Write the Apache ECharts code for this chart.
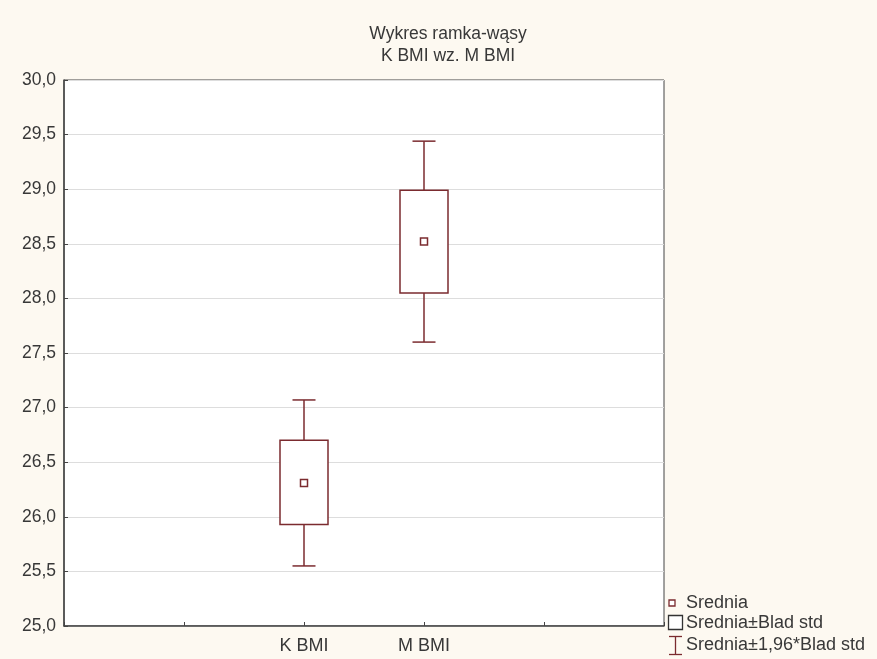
<!DOCTYPE html>
<html>
<head>
<meta charset="utf-8">
<script src="https://cdn.jsdelivr.net/npm/echarts@6/dist/echarts.min.js"></script>
<style>
html,body{margin:0;padding:0;background:#fdf9f1;}
#chart{width:877px;height:659px;}
</style>
</head>
<body>
<div id="chart"></div>
<script>
// x axis slots: the two groups sit on the 2nd and 3rd inner ticks
const xSlots = ['', '', 'K BMI', 'M BMI', '', ''];
const groups = ['K BMI', 'M BMI'];
const means = [26.31, 28.52];
const seLow = [25.93, 28.05];
const seHigh = [26.70, 28.99];
const ciLow = [25.55, 27.60];
const ciHigh = [27.07, 29.44];
const yTicks = [25, 25.5, 26, 26.5, 27, 27.5, 28, 28.5, 29, 29.5, 30];
const legendLabels = ['Srednia', 'Srednia±Blad std', 'Srednia±1,96*Blad std'];

const C = '#7b2b2f';
const FONT = 'Liberation Sans, Arial, sans-serif';
const TXT = '#383838';
const AX = '#444444';

const chart = echarts.init(document.getElementById('chart'));

const data = groups.map((g, i) => [g, means[i], seLow[i], seHigh[i], ciLow[i], ciHigh[i]]);

chart.setOption({
  backgroundColor: '#fdf9f1',
  animation: false,
  title: {
    text: 'Wykres ramka-wąsy\nK BMI wz. M BMI',
    left: 443, top: 18, textAlign: 'center',
    textStyle: {fontFamily: FONT, fontSize: 17.5, fontWeight: 'normal', color: TXT, lineHeight: 22}
  },
  grid: {left: 64, right: 213, top: 80, bottom: 33, show: true, backgroundColor: '#ffffff', borderColor: AX, borderWidth: 1},
  xAxis: {
    type: 'category', data: xSlots, boundaryGap: false,
    axisLine: {lineStyle: {color: AX, width: 1.5}},
    axisTick: {inside: true, length: 4, lineStyle: {color: AX}},
    axisLabel: {fontFamily: FONT, fontSize: 18, color: TXT, margin: 11},
    splitLine: {show: false}
  },
  yAxis: {
    type: 'value', min: 25, max: 30, interval: 0.5,
    axisLine: {show: true, lineStyle: {color: AX, width: 1.5}},
    axisTick: {show: true, inside: true, length: 4, lineStyle: {color: AX}},
    axisLabel: {fontFamily: FONT, fontSize: 17.5, color: TXT, margin: 8,
      formatter: v => yTicks.includes(v) ? v.toFixed(1).replace('.', ',') : ''},
    splitLine: {show: true, lineStyle: {color: '#dddddd', width: 1}}
  },
  series: [{
    type: 'custom',
    data: data,
    encode: {x: 0, y: [1, 2, 3, 4, 5]},
    renderItem: function (params, api) {
      const x = api.value(0);
      const pM = api.coord([x, api.value(1)]);
      const pSL = api.coord([x, api.value(2)]);
      const pSH = api.coord([x, api.value(3)]);
      const pCL = api.coord([x, api.value(4)]);
      const pCH = api.coord([x, api.value(5)]);
      const cx = pM[0];
      const bw = 48, cw = 23, ms = 7;
      const ls = {stroke: C, lineWidth: 1.5, fill: null};
      return {
        type: 'group',
        children: [
          {type: 'line', shape: {x1: cx, y1: pCH[1], x2: cx, y2: pSH[1]}, style: ls},
          {type: 'line', shape: {x1: cx, y1: pSL[1], x2: cx, y2: pCL[1]}, style: ls},
          {type: 'line', shape: {x1: cx - cw / 2, y1: pCH[1], x2: cx + cw / 2, y2: pCH[1]}, style: ls},
          {type: 'line', shape: {x1: cx - cw / 2, y1: pCL[1], x2: cx + cw / 2, y2: pCL[1]}, style: ls},
          {type: 'rect', shape: {x: cx - bw / 2, y: pSH[1], width: bw, height: pSL[1] - pSH[1]}, style: {stroke: C, lineWidth: 1.5, fill: '#ffffff'}},
          {type: 'rect', shape: {x: cx - ms / 2, y: pM[1] - ms / 2, width: ms, height: ms}, style: {stroke: C, lineWidth: 1.5, fill: '#ffffff'}}
        ]
      };
    }
  }],
  graphic: [
    {type: 'rect', shape: {x: 669, y: 600, width: 6, height: 6}, style: {stroke: C, lineWidth: 1.3, fill: '#fff'}},
    {type: 'text', x: 686, y: 603, style: {text: legendLabels[0], font: '18px ' + FONT, fill: TXT, textVerticalAlign: 'middle'}},
    {type: 'rect', shape: {x: 668.5, y: 615.5, width: 14, height: 14}, style: {stroke: '#333', lineWidth: 1.3, fill: '#fff'}},
    {type: 'text', x: 686, y: 623, style: {text: legendLabels[1], font: '18px ' + FONT, fill: TXT, textVerticalAlign: 'middle'}},
    {type: 'line', shape: {x1: 669, y1: 636.5, x2: 682, y2: 636.5}, style: {stroke: C, lineWidth: 1.3}},
    {type: 'line', shape: {x1: 675.5, y1: 636.5, x2: 675.5, y2: 654.5}, style: {stroke: C, lineWidth: 1.3}},
    {type: 'line', shape: {x1: 669, y1: 654.5, x2: 682, y2: 654.5}, style: {stroke: C, lineWidth: 1.3}},
    {type: 'text', x: 686, y: 645, style: {text: legendLabels[2], font: '18px ' + FONT, fill: TXT, textVerticalAlign: 'middle'}}
  ]
});
</script>
</body>
</html>
